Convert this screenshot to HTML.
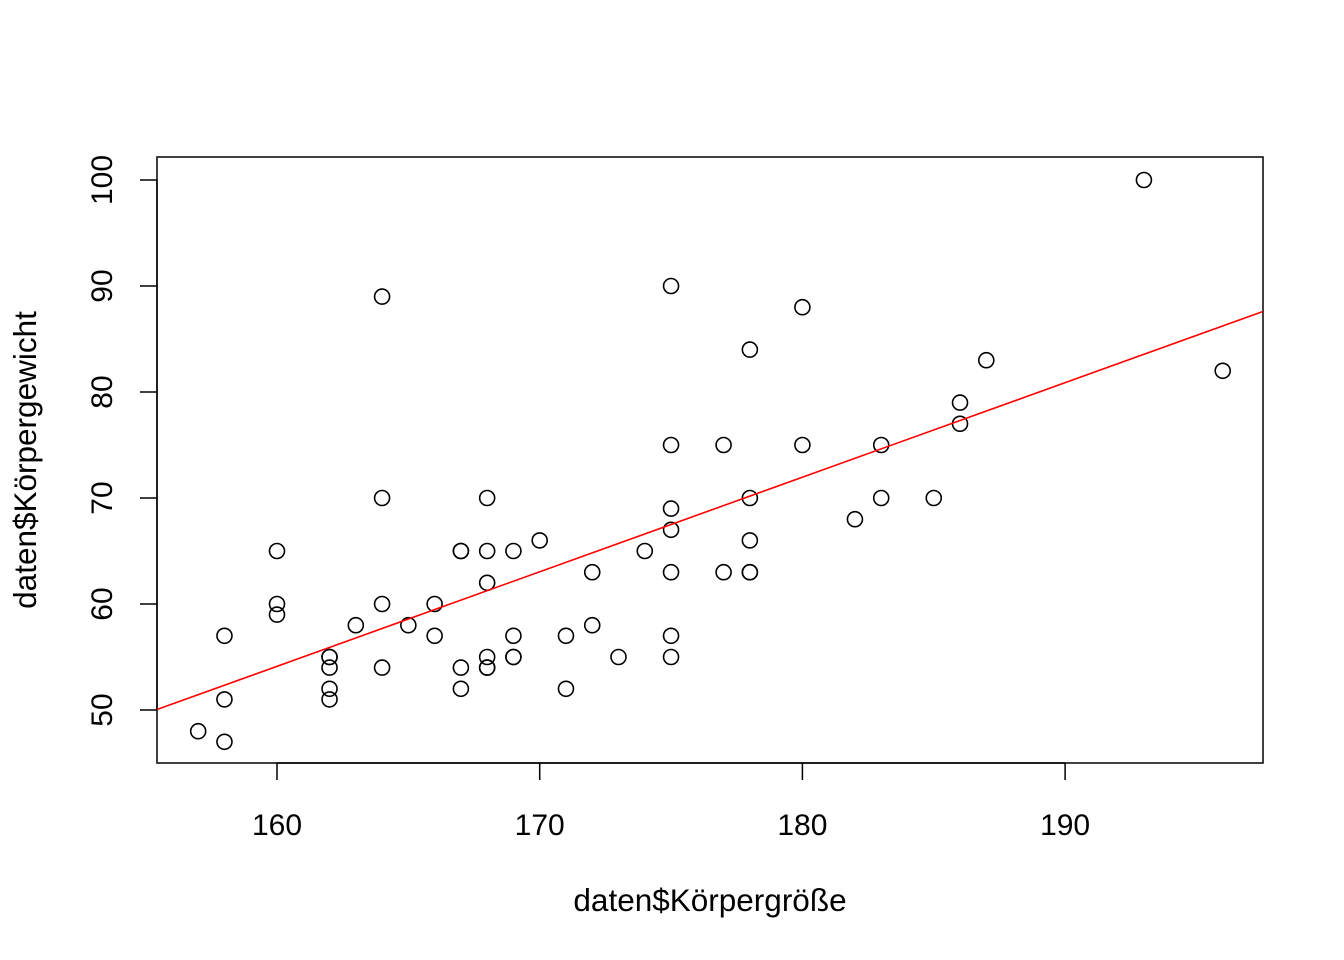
<!DOCTYPE html>
<html><head><meta charset="utf-8"><style>
html,body{margin:0;padding:0;background:#fff;}
svg{display:block;font-family:"Liberation Sans",Arial,sans-serif;}
</style></head><body>
<svg id="chart" width="1344" height="960"></svg>
<script>
const xs=[157,158,158,158,160,160,160,162,162,162,162,162,163,164,164,164,164,165,166,166,167,167,167,167,168,168,168,168,168,168,169,169,169,169,170,171,171,172,172,173,174,175,175,175,175,175,175,175,177,177,178,178,178,178,178,180,180,182,183,183,185,186,186,187,193,196];
const ys=[48,47,51,57,65,60,59,55,54,52,51,55,58,89,70,60,54,58,60,57,65,65,54,52,70,65,62,55,54,54,65,57,55,55,66,57,52,63,58,55,65,90,75,69,67,63,57,55,75,63,84,70,66,63,63,88,75,68,75,70,70,79,77,83,100,82];
const xTicks=[160,170,180,190];
const yTicks=[50,60,70,80,90,100];
const fitCoef=[-88.6,0.892];
const NS="http://www.w3.org/2000/svg";
const svg=document.getElementById('chart');
const X=v=>277+(v-160)*26.27;
const Y=v=>710-(v-50)*10.6;
function mk(t,a){const e=document.createElementNS(NS,t);for(const k in a)e.setAttribute(k,a[k]);svg.appendChild(e);return e;}
const box=mk('rect',{x:157,y:157,width:1106,height:606,fill:'none',stroke:'#000','stroke-width':1.5});


const xa=mk('line',{x1:X(160),x2:X(190),y1:763,y2:763,stroke:'#000','stroke-width':1.5});


xTicks.forEach(t=>{
  const l=mk('line',{x1:X(t),x2:X(t),y1:763,y2:780,stroke:'#000','stroke-width':1.5});
  
  
  const tx=mk('text',{x:X(t),y:835,'text-anchor':'middle','font-size':30});
  tx.textContent=t;
  
  
});
const ya=mk('line',{x1:157,x2:157,y1:Y(50),y2:Y(100),stroke:'#000','stroke-width':1.5});


yTicks.forEach(t=>{
  const l=mk('line',{x1:140,x2:157,y1:Y(t),y2:Y(t),stroke:'#000','stroke-width':1.5});
  
  
  const tx=mk('text',{x:0,y:0,'text-anchor':'middle','font-size':30,transform:`translate(112,${Y(t)}) rotate(-90)`});
  tx.textContent=t;
  
  
});
const xt=mk('text',{x:710,y:911,'text-anchor':'middle','font-size':31.5});
xt.textContent='daten$Körpergröße';


const yt=mk('text',{x:0,y:0,'text-anchor':'middle','font-size':31.5,transform:'translate(36,460) rotate(-90)'});
yt.textContent='daten$Körpergewicht';


xs.forEach((x,i)=>{
  const c=mk('circle',{cx:X(x),cy:Y(ys[i]),r:7.5,fill:'none',stroke:'#000','stroke-width':1.6});
  
  
});
const x0=155.43,x1=197.53;
const rl=mk('line',{x1:X(x0),y1:Y(fitCoef[0]+fitCoef[1]*x0),x2:X(x1),y2:Y(fitCoef[0]+fitCoef[1]*x1),stroke:'#ff0000','stroke-width':1.6});


</script>
</body></html>
